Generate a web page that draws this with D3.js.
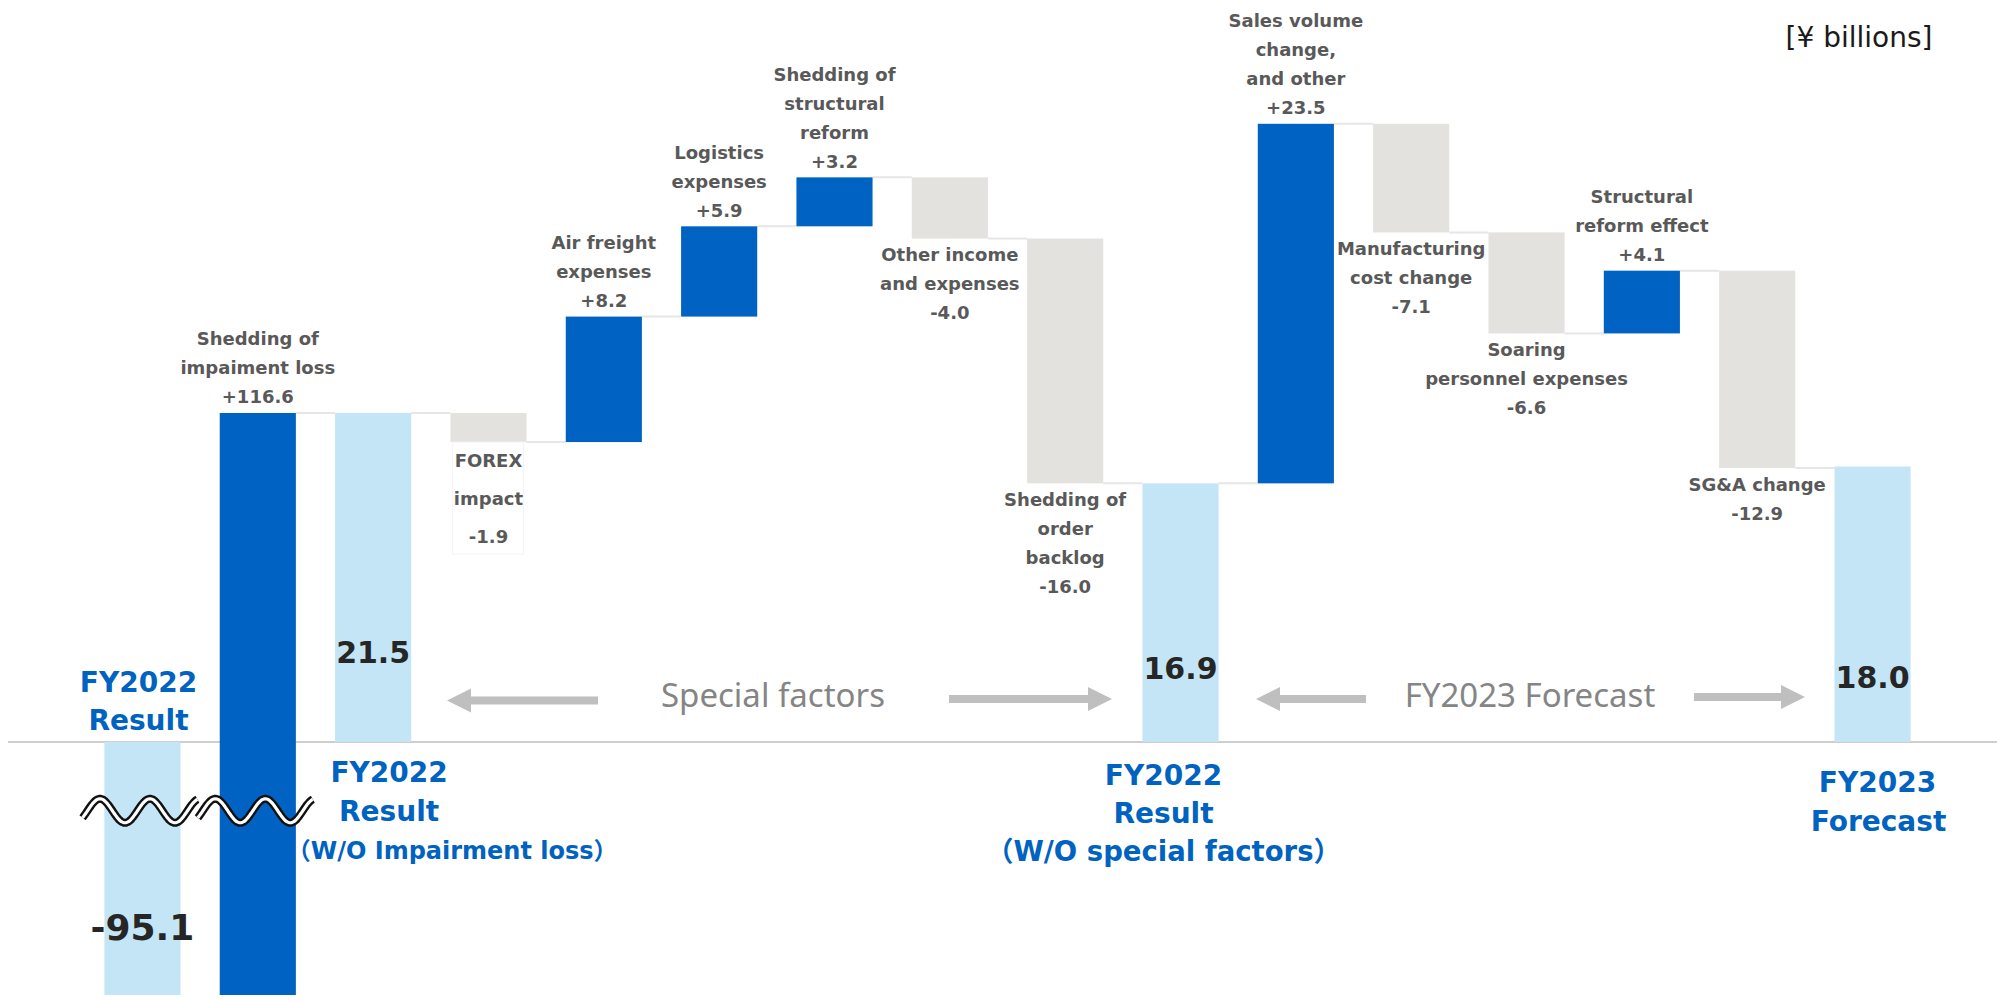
<!DOCTYPE html>
<html><head><meta charset="utf-8">
<script src="https://cdn.jsdelivr.net/npm/d3@7/dist/d3.min.js"></script>
<style>
html,body{margin:0;padding:0;background:#fff;overflow:hidden;}
svg{display:block;}
</style></head>
<body>
<svg id="chart" width="1997" height="1001"></svg>
<script>
// ---------- DATA ----------
const categories = [
  "FY2022 Result", "Shedding of impaiment loss", "FY2022 Result (W/O Impairment loss)",
  "FOREX impact", "Air freight expenses", "Logistics expenses", "Shedding of structural reform",
  "Other income and expenses", "Shedding of order backlog", "FY2022 Result (W/O special factors)",
  "Sales volume change, and other", "Manufacturing cost change", "Soaring personnel expenses",
  "Structural reform effect", "SG&A change", "FY2023 Forecast"
];
const values = [-95.1, 116.6, 21.5, -1.9, 8.2, 5.9, 3.2, -4.0, -16.0, 16.9, 23.5, -7.1, -6.6, 4.1, -12.9, 18.0];
const kinds = ["total","delta","total","delta","delta","delta","delta","delta","delta","total","delta","delta","delta","delta","delta","total"];
const labelLines = [
  [],
  ["Shedding of","impaiment loss","+116.6"],
  [],
  ["FOREX","impact","-1.9"],
  ["Air freight","expenses","+8.2"],
  ["Logistics","expenses","+5.9"],
  ["Shedding of","structural","reform","+3.2"],
  ["Other income","and expenses","-4.0"],
  ["Shedding of","order","backlog","-16.0"],
  [],
  ["Sales volume","change,","and other","+23.5"],
  ["Manufacturing","cost change","-7.1"],
  ["Soaring","personnel expenses","-6.6"],
  ["Structural","reform effect","+4.1"],
  ["SG&A change","-12.9"],
  []
];
const totalValueLabels = ["-95.1","21.5","16.9","18.0"];
const totalIndexes = [0, 2, 9, 15];
const brokenBars = [0, 1];
const blueLabel0 = ["FY2022","Result"];
const blueLabel2 = ["FY2022","Result","（W/O Impairment loss）"];
const blueLabel9 = ["FY2022","Result","（W/O special factors）"];
const blueLabel15 = ["FY2023","Forecast"];
const sectionTexts = ["Special factors","FY2023 Forecast"];
const unitText = "[¥ billions]";

// ---------- LAYOUT ----------
const W = 1997, H = 1001;
const svg = d3.select("#chart");
const C_DARK = "#0062C2", C_LIGHT = "#C3E5F5", C_GRAY = "#E3E2DF";
const C_LABEL = "#595959", C_BLUE = "#0062C1", C_ARROW = "#BFBFBF";

const x = d3.scaleBand().domain(d3.range(values.length)).range([84.8, 1930.2])
  .paddingInner(0.34).paddingOuter(0.17);
const y = d3.scaleLinear().domain([-16.54, 40.4]).range([995, 123.8]).clamp(true);
const bw = x.bandwidth();
const cx = i => x(i) + bw / 2;

// compute waterfall
let run = 0;
const bars = values.map((v, i) => {
  let s, e;
  if (kinds[i] === "total") { s = 0; e = v; }
  else { s = run; e = run + v; }
  run = e;
  return {i, v, s, e, kind: kinds[i]};
});

// baseline
svg.append("line").attr("x1", 8).attr("x2", W).attr("y1", y(0)).attr("y2", y(0))
  .attr("stroke", "#BEBEBE").attr("stroke-width", 1.5);

// connectors
const [dmin, dmax] = y.domain();
svg.append("g").selectAll("line")
  .data(bars.slice(0, -1).filter(b => b.e >= dmin && b.e <= dmax))
  .join("line")
  .attr("x1", b => x(b.i) + bw).attr("x2", b => x(b.i + 1))
  .attr("y1", b => y(b.e)).attr("y2", b => y(b.e))
  .attr("stroke", "#E6E6E6").attr("stroke-width", 2);

// bars
svg.append("g").selectAll("rect").data(bars).join("rect")
  .attr("x", b => x(b.i)).attr("width", bw)
  .attr("y", b => Math.min(y(b.s), y(b.e)))
  .attr("height", b => Math.abs(y(b.s) - y(b.e)))
  .attr("fill", b => b.kind === "total" ? C_LIGHT : (b.v >= 0 ? C_DARK : C_GRAY));

// FOREX faint label box
const fx = bars[3];
svg.append("rect").attr("x", x(3) + 2).attr("width", bw - 5)
  .attr("y", y(fx.e)).attr("height", 112)
  .attr("fill", "#fff").attr("stroke", "#F5F5F5").attr("stroke-width", 1);

// category labels
const catG = svg.append("g").attr("font-family", "'DejaVu Sans', Verdana, sans-serif")
  .attr("font-weight", "bold").attr("font-size", 18).attr("fill", C_LABEL)
  .attr("text-anchor", "middle");
bars.forEach(b => {
  const lines = labelLines[b.i];
  if (!lines.length) return;
  const n = lines.length;
  const top = y(Math.max(b.s, b.e)), bot = y(Math.min(b.s, b.e));
  const gap = b.i === 3 ? 38 : 29;
  lines.forEach((t, k) => {
    const yy = b.v >= 0 ? top - 16 - (n - 1 - k) * gap : bot + (b.i === 3 ? 18 : 16) + k * gap;
    catG.append("text").attr("x", cx(b.i)).attr("y", yy).attr("dy", "0.36em").text(t);
  });
});

// total value labels
const valDy = [185, -90, -74, -65];
const valSize = [36, 30, 30, 30];
totalIndexes.forEach((ti, k) => {
  svg.append("text").attr("x", cx(ti)).attr("y", y(0) + valDy[k]).attr("dy", "0.36em")
    .attr("text-anchor", "middle").attr("font-family", "'DejaVu Sans', Verdana, sans-serif")
    .attr("font-weight", "bold").attr("font-size", valSize[k]).attr("fill", "#262626")
    .text(totalValueLabels[k]);
});

// blue labels
function blue(lines, xs, ys, sizes) {
  lines.forEach((t, k) => {
    svg.append("text").attr("x", xs[k]).attr("y", ys[k]).attr("dy", "0.36em")
      .attr("text-anchor", "middle").attr("font-family", "'DejaVu Sans', Verdana, 'Noto Sans CJK JP', sans-serif")
      .attr("font-weight", "bold").attr("font-size", sizes[k]).attr("fill", C_BLUE).text(t);
  });
}
blue(blueLabel0, [cx(0) - 4, cx(0) - 4], [682, 720], [28, 28]);
blue(blueLabel2, [cx(2) + 16, cx(2) + 16, cx(2) + 79], [772, 811, 850], [28, 28, 24]);
blue(blueLabel9, [cx(9) - 17, cx(9) - 17, cx(9) - 17], [775, 813, 851], [28, 28, 27.5]);
blue(blueLabel15, [cx(15) + 5, cx(15) + 6], [782, 821], [28, 28]);

// section texts
const secG = svg.append("g").attr("font-family", "'Noto Sans', 'Open Sans', sans-serif")
  .attr("font-size", 33).attr("fill", "#858585").attr("text-anchor", "middle");
secG.append("text").attr("x", 773).attr("y", 695).attr("dy", "0.36em").text(sectionTexts[0]);
secG.append("text").attr("x", 1530).attr("y", 695).attr("dy", "0.36em").text(sectionTexts[1]);

// arrows
function arrow(xTail, xTip, yc) {
  const dir = Math.sign(xTip - xTail);
  const hl = 24, hh = 12, sh = 4;
  const xb = xTip - dir * hl;
  const pts = [[xTail, yc - sh], [xb, yc - sh], [xb, yc - hh], [xTip, yc], [xb, yc + hh], [xb, yc + sh], [xTail, yc + sh]];
  svg.append("polygon").attr("points", pts.map(p => p.join(",")).join(" ")).attr("fill", C_ARROW);
}
arrow(598, 447, 700.5);
arrow(949, 1112, 699);
arrow(1366, 1256, 699);
arrow(1694, 1805, 697);

// unit
svg.append("text").attr("x", 1859).attr("y", 47).attr("text-anchor", "middle")
  .attr("font-family", "'DejaVu Sans', Verdana, sans-serif").attr("font-size", 28)
  .attr("fill", "#1a1a1a").text(unitText);

// wave break symbols
const yc = y(-4.5), A = 12, P = 50;
brokenBars.forEach(i => {
  const c = cx(i);
  const pts = d3.range(c - 60, c + 55.5, 1).map(xx => [xx, yc - A * Math.sin(2 * Math.PI * (xx - (c - 55)) / P)]);
  const line = d3.line().curve(d3.curveBasis);
  svg.append("path").attr("d", line(pts)).attr("fill", "none").attr("stroke", "#111").attr("stroke-width", 8);
  svg.append("path").attr("d", line(pts)).attr("fill", "none").attr("stroke", "#fff").attr("stroke-width", 3.2);
});
</script>
</body></html>
